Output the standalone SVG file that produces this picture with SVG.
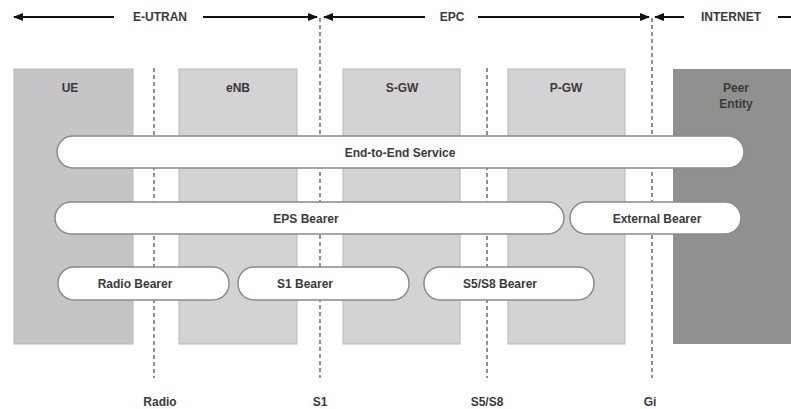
<svg xmlns="http://www.w3.org/2000/svg" width="791" height="409" viewBox="0 0 791 409">
<defs>
<style>
text{font-family:"Liberation Sans",Arial,sans-serif;font-weight:bold;font-size:12px;fill:#3a3a3a;text-anchor:middle}
.box{fill:#d4d2d5;stroke:#b8b6b9;stroke-width:1}
.pill{fill:#fff;stroke:#8a8a8a;stroke-width:1.5}
.dash{stroke:#555;stroke-width:1.3;stroke-dasharray:4,3;fill:none}
.arr{stroke:#111;stroke-width:2;fill:none}
</style>
<marker id="ah" markerWidth="10" markerHeight="8" refX="9" refY="4" orient="auto-start-reverse" markerUnits="userSpaceOnUse">
<path d="M0,0 L10,4 L0,8 Z" fill="#111"/>
</marker>
</defs>
<rect width="791" height="409" fill="#fff"/>
<g id="ue"><rect class="box" x="14" y="69" width="119" height="275" style="fill:#c6c4c6"/><text x="70" y="92">UE</text></g>
<g id="enb"><rect class="box" x="179" y="69" width="118" height="275"/><text x="238" y="92">eNB</text></g>
<g id="sgw"><rect class="box" x="343" y="69" width="117" height="275"/><text x="402" y="92">S-GW</text></g>
<g id="pgw"><rect class="box" x="508" y="69" width="117" height="275"/><text x="566" y="92">P-GW</text></g>
<g id="peer"><rect x="673" y="69" width="120" height="275" fill="#8f918f"/><text x="736" y="92">Peer</text><text x="736" y="108">Entity</text></g>
<g id="connectors">
<line class="dash" x1="154" y1="68" x2="154" y2="378"/>
<line class="dash" x1="320" y1="18" x2="320" y2="378"/>
<line class="dash" x1="487" y1="68" x2="487" y2="378"/>
<line class="dash" x1="652" y1="18" x2="652" y2="378"/>
<line class="arr" x1="114" y1="17" x2="14" y2="17" marker-end="url(#ah)"/>
<line class="arr" x1="203" y1="17" x2="317" y2="17" marker-end="url(#ah)"/>
<line class="arr" x1="425" y1="17" x2="324" y2="17" marker-end="url(#ah)"/>
<line class="arr" x1="478" y1="17" x2="649" y2="17" marker-end="url(#ah)"/>
<line class="arr" x1="684" y1="17" x2="655" y2="17" marker-end="url(#ah)"/>
<line class="arr" x1="778" y1="17" x2="791" y2="17"/>
</g>
<text x="160" y="21">E-UTRAN</text>
<text x="452" y="21">EPC</text>
<text x="731" y="21">INTERNET</text>
<g id="e2e"><rect class="pill" x="57" y="136" width="687" height="32" rx="16"/><text x="400" y="157">End-to-End Service</text></g>
<g id="eps"><rect class="pill" x="55" y="202" width="509" height="32" rx="16"/><text x="306" y="223">EPS Bearer</text></g>
<g id="ext"><rect class="pill" x="570" y="202" width="171" height="32" rx="16"/><text x="657" y="223">External Bearer</text></g>
<g id="radio"><rect class="pill" x="58" y="267" width="171" height="33" rx="16"/><text x="135" y="288">Radio Bearer</text></g>
<g id="s1"><rect class="pill" x="238" y="267" width="171" height="33" rx="16"/><text x="305" y="288">S1 Bearer</text></g>
<g id="s5"><rect class="pill" x="424" y="267" width="170" height="33" rx="16"/><text x="500" y="288">S5/S8 Bearer</text></g>
<text x="160" y="406">Radio</text>
<text x="320" y="406">S1</text>
<text x="487" y="406">S5/S8</text>
<text x="650" y="406">Gi</text>
</svg>
